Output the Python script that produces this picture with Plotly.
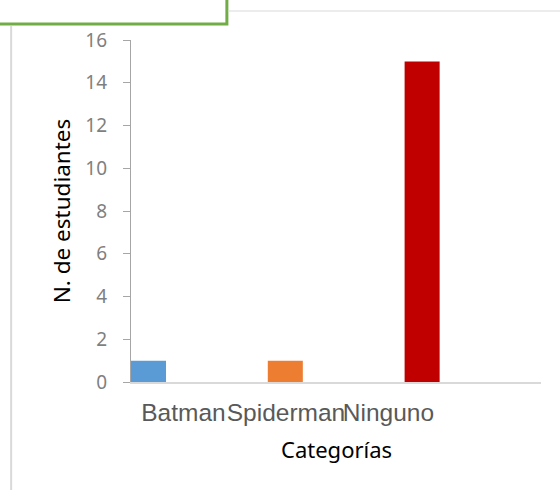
import plotly.graph_objects as go

categories = ["Batman", "Spiderman", "Ninguno"]
values = [1, 1, 15]
bar_colors = ["#5B9BD5", "#ED7D31", "#C00000"]
y_title = "N. de estudiantes"
x_title = "Categorías"

W, H = 560, 490
L, R, T, B = 131, 18.5, 40, 108
pw, ph = W - L - R, H - T - B

def px(x):
    return (x - L) / pw

def py(y):
    return (H - B - y) / ph

fig = go.Figure()
fig.add_trace(go.Bar(
    x=categories, y=values, marker=dict(color=bar_colors, line=dict(width=0)),
    width=0.256, xaxis="x", yaxis="y", showlegend=False,
))
# carrier for the category labels (crowded to the left as in the reference)
fig.add_trace(go.Scatter(
    x=categories, y=[0] * len(categories), mode="markers",
    marker=dict(opacity=0), hoverinfo="skip", showlegend=False,
    xaxis="x2", yaxis="y",
))

fig.update_layout(
    width=W, height=H,
    margin=dict(l=L, r=R, t=T, b=B, pad=0),
    paper_bgcolor="white", plot_bgcolor="rgba(0,0,0,0)",
    xaxis=dict(
        type="category", range=[-0.128, 2.869], domain=[0, 1],
        showticklabels=False, ticks="", showgrid=False,
        showline=True, linecolor="#D9D9D9", linewidth=1.5,
        zeroline=False, fixedrange=True,
    ),
    xaxis2=dict(
        type="category", range=[-0.5, 2.5], domain=[0.003, 0.753],
        anchor="y", showline=False, showgrid=False, ticks="",
        tickangle=0, zeroline=False,
        tickfont=dict(family="Liberation Sans", size=24.5, color="#595959"),
        ticklabelstandoff=13,
    ),
    yaxis=dict(
        range=[0, 16], dtick=2, showgrid=False, zeroline=False,
        showline=True, linecolor="#A6A6A6", linewidth=1.2,
        ticks="outside", ticklen=7, tickcolor="#A6A6A6", tickwidth=1.2,
        tickfont=dict(family="Noto Sans", size=19, color="#7F7F7F"),
        ticklabelstandoff=12,
        title=dict(text=y_title, font=dict(family="Noto Sans", size=22.5, color="black"), standoff=8),
    ),
    annotations=[
        dict(text=x_title, xref="paper", yref="paper", x=0.5, y=py(449),
             showarrow=False, xanchor="center", yanchor="middle",
             font=dict(family="Noto Sans", size=22, color="black")),
    ],
    shapes=[
        dict(type="rect", xref="paper", yref="paper",
             x0=px(-10), x1=px(227), y0=py(24), y1=py(-10),
             line=dict(color="#70AD47", width=3), fillcolor="white"),
        dict(type="line", xref="paper", yref="paper",
             x0=px(228), x1=px(565), y0=py(11), y1=py(11),
             line=dict(color="#D9D9D9", width=1.2)),
        dict(type="line", xref="paper", yref="paper",
             x0=px(11), x1=px(11), y0=py(26), y1=py(495),
             line=dict(color="#D9D9D9", width=2)),
    ],
)

fig.write_html("out.html", config={"displayModeBar": False},
               post_script="document.body.style.margin='0';")
